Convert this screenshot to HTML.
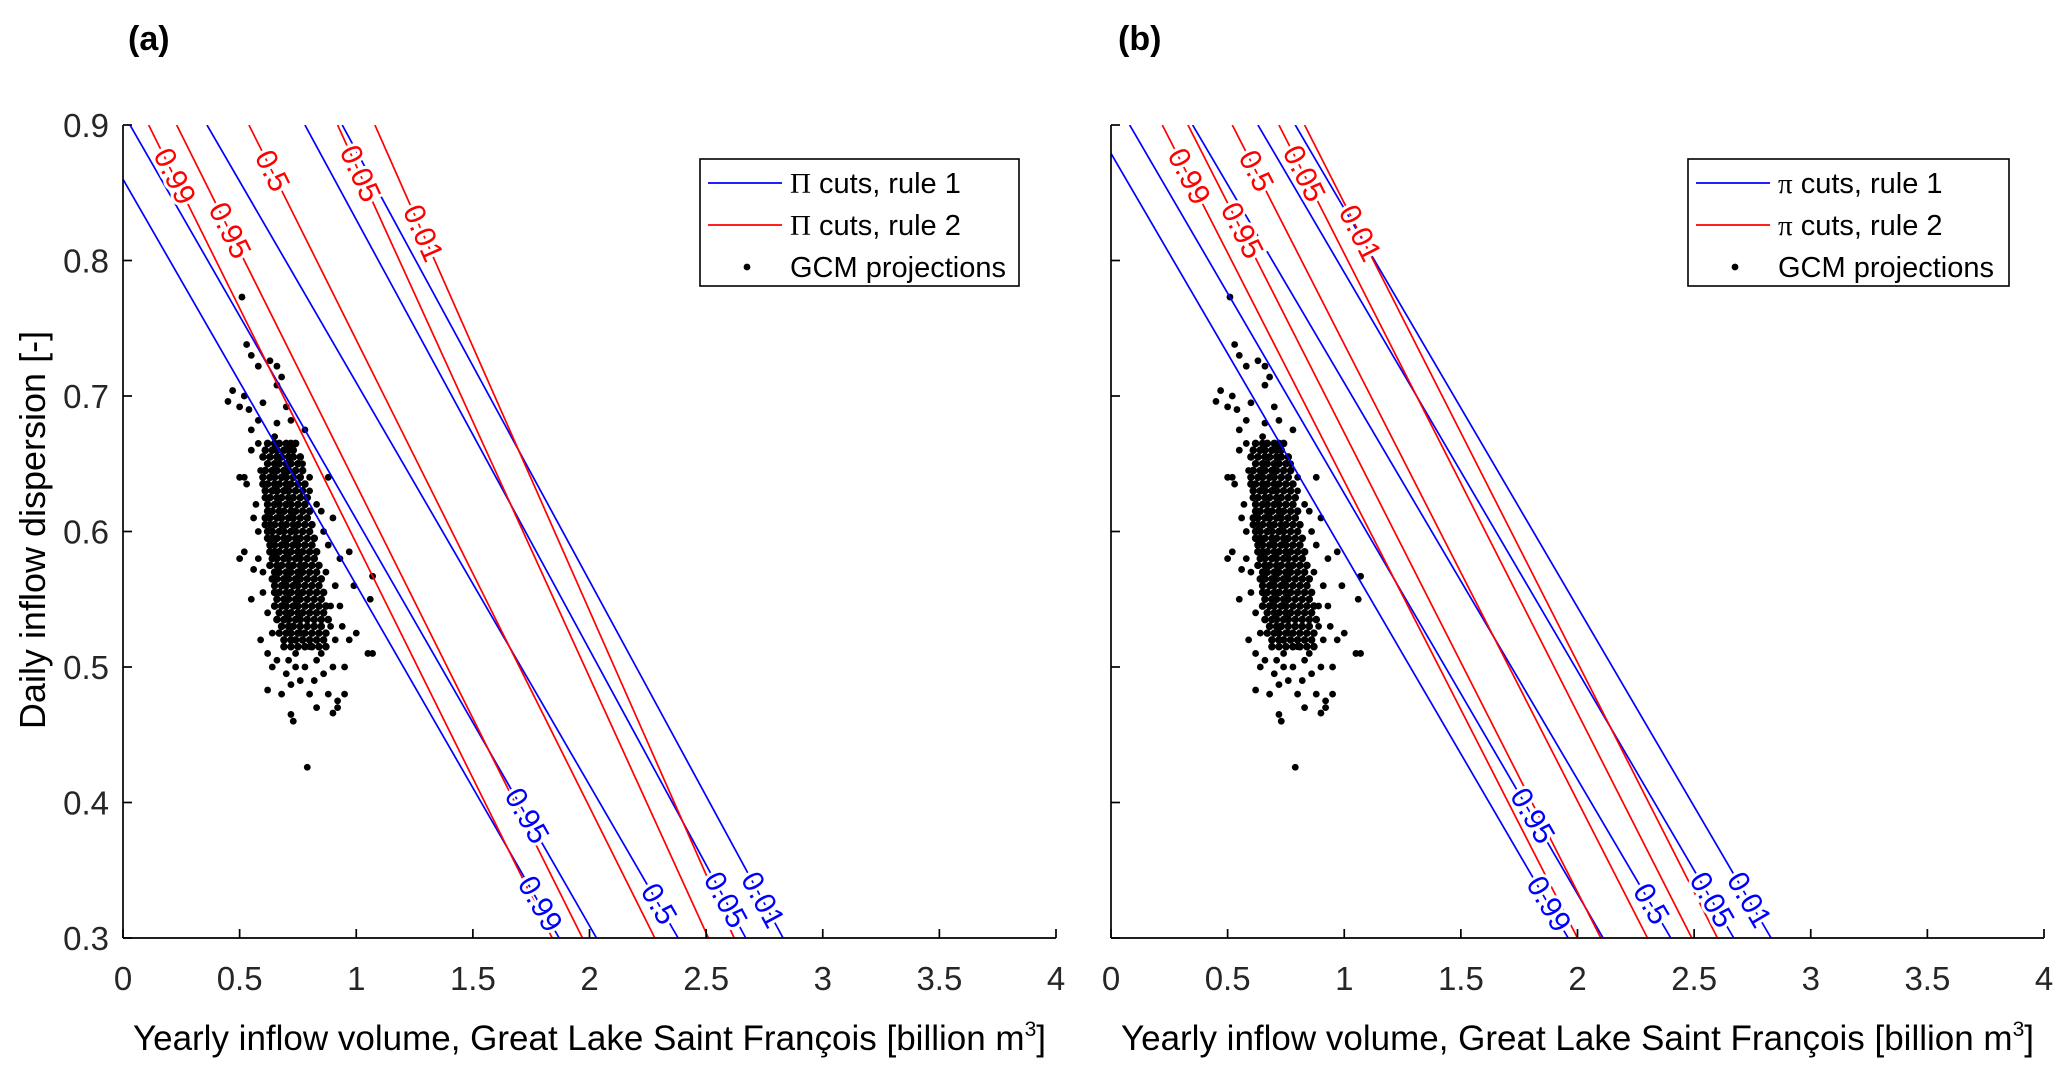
<!DOCTYPE html>
<html><head><meta charset="utf-8">
<style>
html,body{margin:0;padding:0;background:#fff;}
svg{display:block;font-family:"Liberation Sans",Arial,sans-serif;}
</style></head>
<body>
<svg id="fig" width="2067" height="1075" viewBox="0 0 2067 1075" xmlns="http://www.w3.org/2000/svg">
<rect width="2067" height="1075" fill="#fff"/>
</svg>
<script>
// ===== data =====
const xTicks = [0,0.5,1,1.5,2,2.5,3,3.5,4];
const xTickLabels = ["0","0.5","1","1.5","2","2.5","3","3.5","4"];
const yTicks = [0.3,0.4,0.5,0.6,0.7,0.8,0.9];
const yTickLabels = ["0.3","0.4","0.5","0.6","0.7","0.8","0.9"];
const cutLevels = ["0.99","0.95","0.5","0.05","0.01"];
const aBlue = [[0,0.86,1.87,0.3],[0.03,0.9,2.03,0.3],[0.36,0.9,2.38,0.3],[0.78,0.9,2.67,0.3],[0.94,0.9,2.83,0.3]];
const aRed  = [[0.11,0.9,1.84,0.3],[0.23,0.9,1.97,0.3],[0.54,0.9,2.28,0.3],[0.92,0.9,2.51,0.3],[1.08,0.9,2.62,0.3]];
const bBlue = [[0,0.879,1.96,0.3],[0.08,0.9,2.11,0.3],[0.35,0.9,2.40,0.3],[0.63,0.9,2.67,0.3],[0.79,0.9,2.83,0.3]];
const bRed  = [[0.22,0.9,2.00,0.3],[0.33,0.9,2.10,0.3],[0.52,0.9,2.30,0.3],[0.72,0.9,2.49,0.3],[0.83,0.9,2.60,0.3]];
const redLabelY = [0.862,0.822,0.866,0.864,0.82];
const blueLabelY = [0.325,0.39,0.325,0.328,0.328];
const coreRows = [
[0.665,[0.62,0.65,0.67,0.70,0.72,0.74]],
[0.660,[0.61,0.64,0.66,0.69,0.71,0.73]],
[0.655,[0.60,0.63,0.66,0.68,0.71,0.73,0.76]],
[0.650,[0.62,0.65,0.67,0.70,0.72,0.75]],
[0.645,[0.61,0.64,0.66,0.69,0.71,0.74,0.77]],
[0.640,[0.60,0.63,0.65,0.68,0.70,0.73,0.76]],
[0.635,[0.60,0.62,0.65,0.67,0.70,0.72,0.75,0.78]],
[0.630,[0.61,0.64,0.66,0.69,0.71,0.74,0.77]],
[0.625,[0.61,0.63,0.66,0.68,0.71,0.73,0.76,0.79]],
[0.620,[0.62,0.65,0.67,0.70,0.72,0.75,0.78]],
[0.615,[0.62,0.64,0.67,0.69,0.72,0.74,0.77,0.80]],
[0.610,[0.61,0.63,0.66,0.68,0.71,0.73,0.76,0.79]],
[0.605,[0.61,0.63,0.65,0.68,0.70,0.73,0.75,0.78,0.81]],
[0.600,[0.62,0.64,0.67,0.69,0.72,0.74,0.77,0.80]],
[0.595,[0.62,0.64,0.66,0.69,0.71,0.74,0.76,0.79,0.82]],
[0.590,[0.63,0.65,0.68,0.70,0.73,0.75,0.78,0.81]],
[0.585,[0.63,0.65,0.67,0.70,0.72,0.75,0.77,0.80,0.83]],
[0.580,[0.64,0.66,0.69,0.71,0.74,0.76,0.79,0.82]],
[0.575,[0.63,0.66,0.68,0.71,0.73,0.76,0.78,0.81,0.84]],
[0.570,[0.65,0.67,0.70,0.72,0.75,0.77,0.80,0.83]],
[0.565,[0.64,0.66,0.69,0.71,0.74,0.76,0.79,0.82,0.85]],
[0.560,[0.65,0.68,0.70,0.73,0.75,0.78,0.81,0.84]],
[0.555,[0.65,0.67,0.70,0.72,0.75,0.77,0.80,0.83,0.86]],
[0.550,[0.66,0.69,0.71,0.74,0.76,0.79,0.82,0.85]],
[0.545,[0.65,0.68,0.70,0.73,0.75,0.78,0.81,0.84,0.87]],
[0.540,[0.67,0.70,0.72,0.75,0.77,0.80,0.83,0.86]],
[0.535,[0.66,0.69,0.71,0.74,0.76,0.79,0.82,0.85,0.88]],
[0.530,[0.68,0.71,0.73,0.76,0.79,0.82,0.85]],
[0.525,[0.67,0.70,0.72,0.75,0.78,0.81,0.84,0.87]],
[0.520,[0.69,0.72,0.74,0.77,0.80,0.83,0.86]],
[0.515,[0.69,0.72,0.75,0.78,0.81,0.84,0.87]]
];
const outliers = [[0.51,0.773],[0.53,0.738],[0.55,0.73],[0.58,0.722],[0.63,0.726],[0.66,0.722],[0.68,0.714],[0.66,0.708],
[0.47,0.704],[0.45,0.696],[0.52,0.70],[0.50,0.692],[0.54,0.69],[0.60,0.695],[0.66,0.68],[0.70,0.692],[0.72,0.682],
[0.58,0.682],[0.78,0.675],[0.55,0.675],[0.58,0.665],[0.65,0.67],[0.52,0.64],[0.50,0.64],[0.53,0.635],[0.55,0.66],
[0.80,0.64],[0.88,0.64],[0.85,0.615],[0.90,0.61],[0.52,0.585],[0.50,0.58],[0.56,0.572],[0.93,0.58],[0.97,0.585],
[1.07,0.567],[0.99,0.56],[1.06,0.55],[0.55,0.55],[0.60,0.57],[0.93,0.545],[1.0,0.525],[0.97,0.52],[1.05,0.51],
[1.07,0.51],[0.59,0.52],[0.62,0.51],[0.64,0.50],[0.70,0.495],[0.74,0.50],[0.78,0.50],[0.82,0.49],[0.86,0.495],
[0.90,0.50],[0.95,0.48],[0.92,0.475],[0.68,0.48],[0.72,0.487],[0.73,0.46],[0.72,0.465],[0.83,0.47],[0.90,0.466],
[0.92,0.47],[0.62,0.483],[0.79,0.426],[0.76,0.525],[0.80,0.515],[0.86,0.52],[0.83,0.505],[0.88,0.48],[0.95,0.50],
[0.74,0.51],[0.69,0.515],[0.89,0.53],[0.91,0.56],[0.88,0.59],[0.58,0.60],[0.57,0.62],[0.59,0.645],
[0.56,0.61],[0.58,0.58],[0.60,0.555],[0.62,0.54],[0.64,0.525],[0.89,0.545],[0.87,0.57],[0.86,0.60],[0.83,0.62],
[0.80,0.63],[0.77,0.65],[0.66,0.505],[0.71,0.505],[0.76,0.49],[0.80,0.48],[0.85,0.51],[0.91,0.52],[0.94,0.53]];

// ===== drawing =====
const NS = "http://www.w3.org/2000/svg";
const svg = document.getElementById('fig');
function mk(tag, attrs, parent){ const e=document.createElementNS(NS,tag); for(const k in attrs) e.setAttribute(k,attrs[k]); (parent||svg).appendChild(e); return e; }

const PW = 933, PT = 125, PH = 813, X0=0, X1=4, Y0=0.3, Y1=0.9;

function drawPanel(left, id, blue, red, sym, showY){
  const g = mk('g',{});
  
  
  const sx = v => left + (v-X0)/(X1-X0)*PW;
  const sy = v => PT + (Y1-v)/(Y1-Y0)*PH;
  const cp = mk('clipPath',{id:'clip-'+id},g);
  mk('rect',{x:left,y:PT,width:PW,height:PH},cp);
  const plot = mk('g',{'clip-path':'url(#clip-'+id+')'},g);
  const dotsG = mk('g',{},plot);
  
  
  coreRows.forEach(r => r[1].forEach(x => {
    const c = mk('circle',{cx:sx(x),cy:sy(r[0]),r:3.8,fill:'#000'},dotsG);
    
    
  }));
  outliers.forEach(p => {
    const c = mk('circle',{cx:sx(p[0]),cy:sy(p[1]),r:3.4,fill:'#000'},dotsG);
    
    
  });
  function drawSet(set, color, labelY, kind){
    set.forEach((l,i) => {
      const ln = mk('line',{x1:sx(l[0]),y1:sy(l[1]),x2:sx(l[2]),y2:sy(l[3]),stroke:color,'stroke-width':1.7},plot);
      
      
    });
    set.forEach((l,i) => {
      const yv = labelY[i];
      const t = (yv - l[1])/(l[3]-l[1]);
      const xv = l[0] + t*(l[2]-l[0]);
      const ang = Math.atan2(sy(l[3])-sy(l[1]), sx(l[2])-sx(l[0]))*180/Math.PI;
      const tx = mk('text',{x:0,y:0,transform:'translate('+sx(xv)+','+sy(yv)+') rotate('+ang+')',
        'text-anchor':'middle','dominant-baseline':'central','font-size':30,fill:color,
        stroke:'#fff','stroke-width':6,'paint-order':'stroke'},g);
      tx.textContent = cutLevels[i];
      
      
    });
  }
  drawSet(blue,'#0000ff',blueLabelY,'blue');
  drawSet(red,'#ff0000',redLabelY,'red');
  const ax = mk('g',{stroke:'#000','stroke-width':1.7,fill:'none'},g);
  
  
  mk('line',{x1:left,y1:PT,x2:left,y2:PT+PH},ax);
  mk('line',{x1:left,y1:PT+PH,x2:left+PW,y2:PT+PH},ax);
  xTicks.forEach((v,i) => {
    mk('line',{x1:sx(v),y1:PT+PH,x2:sx(v),y2:PT+PH-9},ax);
    const t = mk('text',{x:sx(v),y:PT+PH+52,'text-anchor':'middle','font-size':33,fill:'#262626'},g);
    t.textContent = xTickLabels[i];
    
    
  });
  yTicks.forEach((v,i) => {
    mk('line',{x1:left,y1:sy(v),x2:left+9,y2:sy(v)},ax);
    if(showY){
      const t = mk('text',{x:left-14,y:sy(v)+12,'text-anchor':'end','font-size':33,fill:'#262626'},g);
      t.textContent = yTickLabels[i];
      
      
    }
  });
  const xl = mk('text',{x:left+PW/2,y:1050,'text-anchor':'middle','font-size':35,fill:'#000'},g);
  xl.innerHTML = 'Yearly inflow volume, Great Lake Saint François [billion m<tspan font-size="21" dy="-14">3</tspan><tspan dy="14">]</tspan>';
  
  
  const lx = left + 577, ly = 159;
  const leg = mk('g',{},g);
  
  
  mk('rect',{x:lx,y:ly,width:(id==='a'?319:321),height:127,fill:'#fff',stroke:'#000','stroke-width':1.6},leg);
  const ents = [['#0000ff',sym+' cuts, rule 1'],['#ff0000',sym+' cuts, rule 2']];
  ents.forEach((e,i) => {
    const yy = 183 + i*42;
    mk('line',{x1:lx+8,y1:yy,x2:lx+82,y2:yy,stroke:e[0],'stroke-width':1.7},leg);
    const t = mk('text',{x:lx+90,y:yy+10,'font-size':29,fill:'#000'},leg);
    t.innerHTML = '<tspan font-family="Liberation Serif, serif">'+sym+'</tspan> cuts, rule '+(i+1);
    
    
  });
  mk('circle',{cx:lx+47,cy:267,r:3.4,fill:'#000'},leg);
  const t3 = mk('text',{x:lx+90,y:277,'font-size':29,fill:'#000'},leg);
  t3.textContent = 'GCM projections';
  
  
  const tag = mk('text',{x:left+(id==='a'?5:7),y:50,'font-size':34,'font-weight':'bold',fill:'#000'},g);
  tag.textContent = '('+id+')';
  
  
}

drawPanel(123,'a',aBlue,aRed,'Π',true);
drawPanel(1111,'b',bBlue,bRed,'π',false);

const yl = mk('text',{x:0,y:0,transform:'translate(45,530) rotate(-90)','text-anchor':'middle','font-size':36,fill:'#000'});
yl.textContent = 'Daily inflow dispersion [-]';


</script>
</body></html>
